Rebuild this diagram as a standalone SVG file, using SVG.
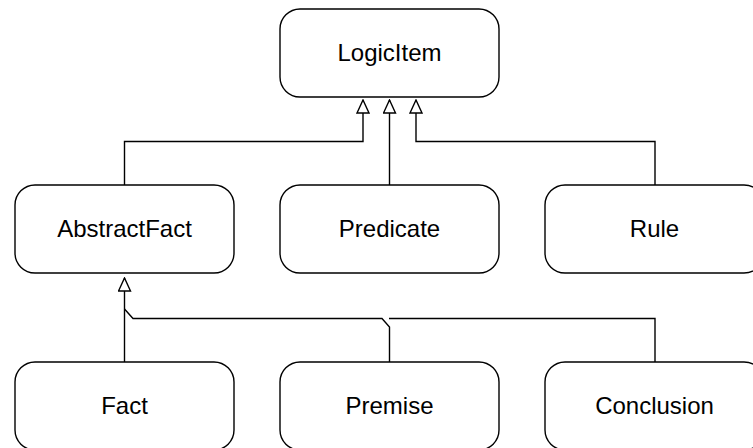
<svg xmlns="http://www.w3.org/2000/svg" width="753" height="448" viewBox="0 0 753 448">
<style>
.box{fill:#fff;stroke:#000;stroke-width:1.4}
.lbl{font-family:"Liberation Sans",Arial,sans-serif;font-size:24px;fill:#000;text-anchor:middle}
.con{fill:none;stroke:#000;stroke-width:1.4}
</style>
<defs>
<marker id="tri" viewBox="-1 -1 15 14" refX="13" refY="6" markerWidth="15" markerHeight="14" markerUnits="userSpaceOnUse" orient="auto">
<path d="M0,0 L13,6 L0,12 Z" fill="#fff" stroke="#000" stroke-width="1.4"/>
</marker>
</defs>
<rect width="753" height="448" fill="#fff"/>
<g id="connectors">
<path class="con" d="M124.5,185 V141.5 H363 V100" marker-end="url(#tri)"/>
<path class="con" d="M389.5,185 V100" marker-end="url(#tri)"/>
<path class="con" d="M655,185 V141.5 H416 V100" marker-end="url(#tri)"/>
<path class="con" d="M124.5,362 V278" marker-end="url(#tri)"/>
<path class="con" d="M389.5,362 V327 L382,318.5 H133 L124.5,309"/>
<path class="con" d="M655,362 V318.5 H389"/>
</g>
<g id="LogicItem"><rect class="box" x="280" y="9" width="219" height="88" rx="20"/><text class="lbl" x="389.5" y="61">LogicItem</text></g>
<g id="AbstractFact"><rect class="box" x="15" y="185" width="219" height="88" rx="20"/><text class="lbl" x="124.5" y="237">AbstractFact</text></g>
<g id="Predicate"><rect class="box" x="280" y="185" width="219" height="88" rx="20"/><text class="lbl" x="389.5" y="237">Predicate</text></g>
<g id="Rule"><rect class="box" x="545" y="185" width="219" height="88" rx="20"/><text class="lbl" x="654.5" y="237">Rule</text></g>
<g id="Fact"><rect class="box" x="15" y="362" width="219" height="88" rx="20"/><text class="lbl" x="124.5" y="414">Fact</text></g>
<g id="Premise"><rect class="box" x="280" y="362" width="219" height="88" rx="20"/><text class="lbl" x="389.5" y="414">Premise</text></g>
<g id="Conclusion"><rect class="box" x="545" y="362" width="219" height="88" rx="20"/><text class="lbl" x="654.5" y="414">Conclusion</text></g>
</svg>
